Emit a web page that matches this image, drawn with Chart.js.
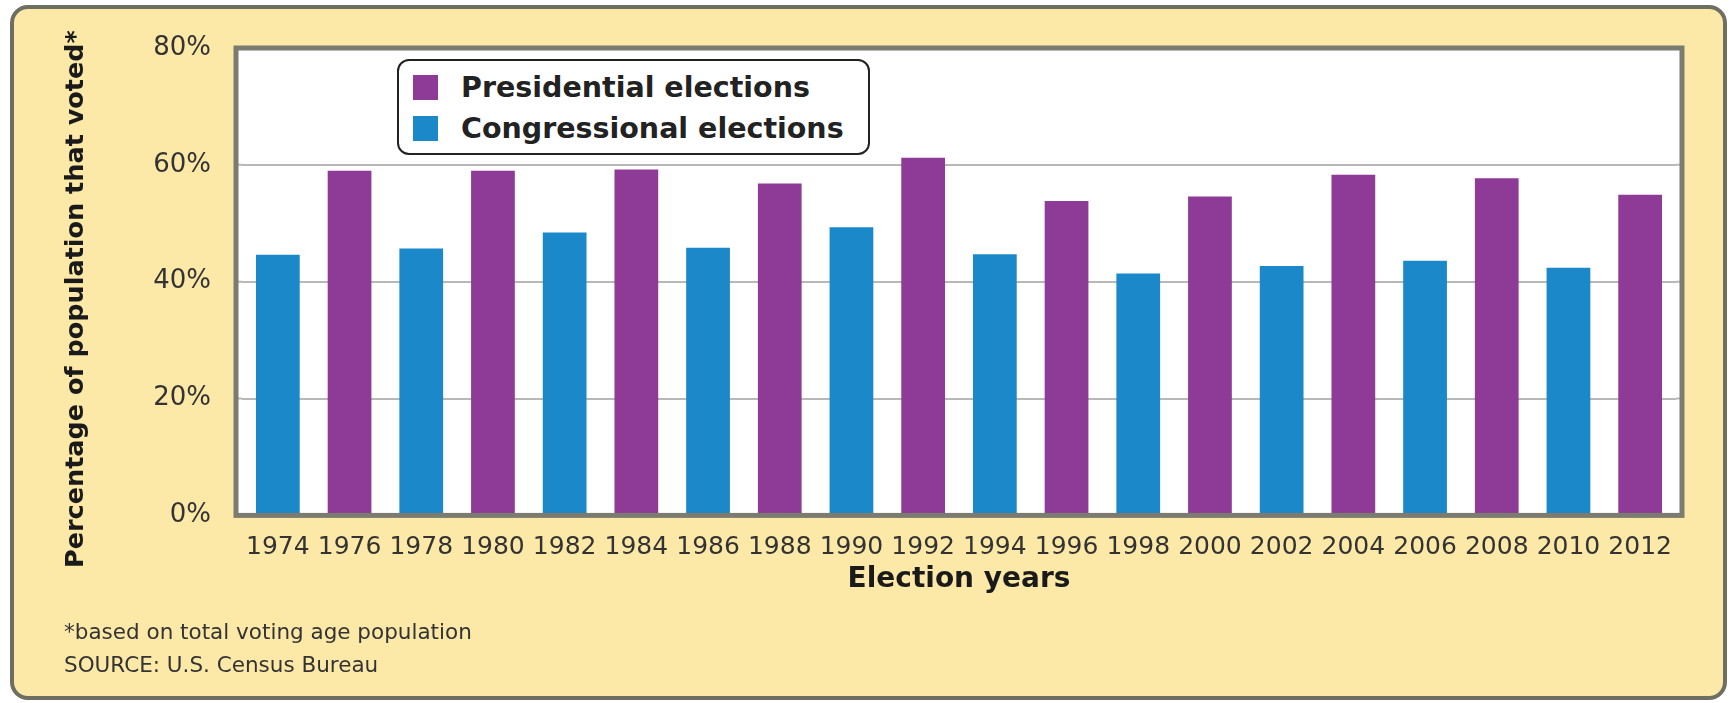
<!DOCTYPE html>
<html>
<head>
<meta charset="utf-8">
<script src="https://cdn.jsdelivr.net/npm/chart.js@4.4.1/dist/chart.umd.min.js"></script>
<style>
  html, body { margin: 0; padding: 0; background: #ffffff; }
  body { width: 1732px; height: 703px; position: relative; overflow: hidden; font-family: "DejaVu Sans", sans-serif; }
  .panel {
    position: absolute; left: 10px; top: 5px; width: 1717px; height: 695px;
    box-sizing: border-box; border: 4px solid #6e6e62; border-radius: 18px;
    background: #fde9a7;
  }
  #chartWrap { position: absolute; left: 0; top: 0; width: 1732px; height: 703px; }
  .legend {
    position: absolute; left: 397px; top: 59px; width: 473px; height: 96px;
    box-sizing: border-box; border: 2px solid #222; border-radius: 12px; background: #fff;
  }
  .legend-row { position: absolute; left: 14px; height: 34px; display: flex; align-items: center; }
  .legend-box { width: 25px; height: 25px; margin-right: 23px; }
  .legend-text { font: bold 28.5px "DejaVu Sans", sans-serif; color: #222; white-space: nowrap; }
  .note { position: absolute; left: 64px; font: 21.5px "DejaVu Sans", sans-serif; color: #333; line-height: 24px; white-space: nowrap; }
</style>
</head>
<body>
<div class="panel"></div>
<div id="chartWrap"><canvas id="turnoutChart"></canvas></div>
<div class="legend" id="legend"></div>
<div class="note" style="top:620px">*based on total voting age population</div>
<div class="note" style="top:653px">SOURCE: U.S. Census Bureau</div>

<script>
// Datos
const years = ['1974', '1976', '1978', '1980', '1982', '1984', '1986', '1988', '1990', '1992',
               '1994', '1996', '1998', '2000', '2002', '2004', '2006', '2008', '2010', '2012'];
const presidential = [null, 59.0, null, 59.0, null, 59.2, null, 56.8, null, 61.2,
                      null, 53.8, null, 54.6, null, 58.3, null, 57.7, null, 54.9];
const congressional = [44.6, null, 45.7, null, 48.4, null, 45.8, null, 49.3, null,
                       44.7, null, 41.4, null, 42.7, null, 43.6, null, 42.4, null];
const yTicks = [0, 20, 40, 60, 80];
const seriesNames = ['Presidential elections', 'Congressional elections'];
const seriesColors = ['#8e3a97', '#1a88c9'];
const yTitle = 'Percentage of population that voted*';

const FRAME_GAP = 6; // el marco queda un poco fuera del área de barras

// Fondo blanco del área del gráfico
const plotBackground = {
    id: 'plotBackground',
    beforeDraw(chart) {
        const { ctx, chartArea: a } = chart;
        ctx.save();
        ctx.fillStyle = '#ffffff';
        ctx.fillRect(a.left - FRAME_GAP, a.top, a.right - a.left + 2 * FRAME_GAP, a.bottom - a.top);
        ctx.restore();
    }
};

// Marco gris y prolongación de las líneas de la cuadrícula hasta el marco
const plotFrame = {
    id: 'plotFrame',
    afterDatasetsDraw(chart) {
        const { ctx, chartArea: a, scales } = chart;
        const left = a.left - FRAME_GAP;
        const right = a.right + FRAME_GAP;
        ctx.save();
        ctx.strokeStyle = '#b8b8b8';
        ctx.lineWidth = 2;
        scales.y.ticks.forEach(t => {
            const y = scales.y.getPixelForValue(t.value);
            ctx.beginPath();
            ctx.moveTo(left, y); ctx.lineTo(a.left, y);
            ctx.moveTo(a.right, y); ctx.lineTo(right, y);
            ctx.stroke();
        });
        ctx.strokeStyle = '#7b7b70';
        ctx.lineWidth = 5;
        ctx.strokeRect(left, a.top, right - left, a.bottom - a.top);
        ctx.restore();
    }
};

// Título vertical del eje Y
const yAxisTitle = {
    id: 'yAxisTitle',
    afterDraw(chart) {
        const { ctx } = chart;
        ctx.save();
        ctx.translate(76, 299);
        ctx.rotate(-Math.PI / 2);
        ctx.font = 'bold 25.5px "DejaVu Sans"';
        ctx.fillStyle = '#1a1a1a';
        ctx.textAlign = 'center';
        ctx.textBaseline = 'middle';
        ctx.fillText(yTitle, 0, 0);
        ctx.restore();
    }
};

function createChart() {
    const ctx = document.getElementById('turnoutChart').getContext('2d');

    new Chart(ctx, {
        type: 'bar',
        data: {
            labels: years,
            datasets: [
                { label: seriesNames[0], data: presidential, backgroundColor: seriesColors[0] },
                { label: seriesNames[1], data: congressional, backgroundColor: seriesColors[1] }
            ]
        },
        options: {
            responsive: true,
            maintainAspectRatio: false,
            animation: false,
            skipNull: true,
            barPercentage: 0.61,
            categoryPercentage: 1,
            layout: { padding: { left: 39, right: 56, top: 48, bottom: 106 } },
            plugins: {
                legend: { display: false },
                tooltip: { enabled: false }
            },
            scales: {
                x: {
                    grid: { display: false, drawTicks: false },
                    border: { display: false },
                    ticks: {
                        font: { family: 'DejaVu Sans', size: 25 },
                        color: '#333333',
                        padding: 17,
                        maxRotation: 0,
                        autoSkip: false
                    },
                    title: {
                        display: true,
                        text: 'Election years',
                        font: { family: 'DejaVu Sans', size: 28, weight: 'bold' },
                        color: '#1a1a1a',
                        padding: { top: -16, bottom: 0 }
                    }
                },
                y: {
                    min: 0,
                    max: 80,
                    afterBuildTicks: scale => { scale.ticks = yTicks.map(v => ({ value: v })); },
                    afterFit: scale => { scale.width = 203; },
                    grid: { color: '#b8b8b8', lineWidth: 2, drawTicks: false },
                    border: { display: false },
                    ticks: {
                        font: { family: 'DejaVu Sans', size: 26 },
                        color: '#333333',
                        padding: 31,
                        callback: v => v + '%'
                    }
                }
            }
        },
        plugins: [plotBackground, plotFrame, yAxisTitle]
    });
}

// Leyenda en recuadro redondeado
function createLegend() {
    const legend = document.getElementById('legend');
    const rowTops = [9, 50];
    seriesNames.forEach((name, i) => {
        const row = document.createElement('div');
        row.className = 'legend-row';
        row.style.top = rowTops[i] + 'px';
        row.innerHTML = `<div class="legend-box" style="background:${seriesColors[i]}"></div>
                         <span class="legend-text">${name}</span>`;
        legend.appendChild(row);
    });
}

createChart();
createLegend();
</script>
</body>
</html>
